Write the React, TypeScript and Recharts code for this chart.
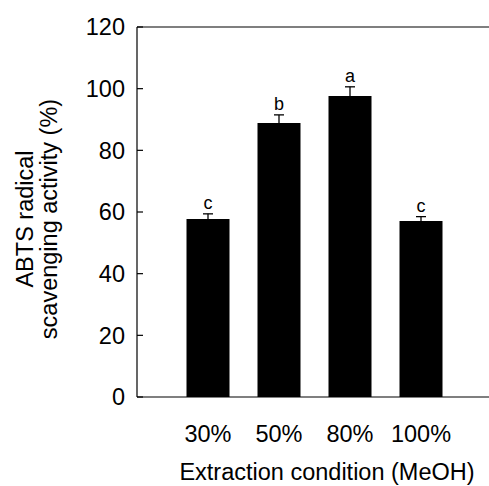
import React from 'react';
import { BarChart, Bar, XAxis, YAxis, ErrorBar, LabelList, ReferenceLine } from 'recharts';

const categories = ['30%', '50%', '80%', '100%'];
const values = [57.7, 88.9, 97.6, 57.1];
const errors = [1.7, 2.6, 3.0, 1.4];
const letters = ['c', 'b', 'a', 'c'];
const yTicks = [0, 20, 40, 60, 80, 100, 120];

const data = categories.map((c, i) => ({ name: c, value: values[i], err: errors[i] }));

const FONT = '"Liberation Sans", Arial, Helvetica, sans-serif';

const YTick = (props: any) => {
  const { x, y, payload } = props;
  return (
    <g>
      <line x1={x + 12} x2={x + 18} y1={y} y2={y} stroke="#000" strokeWidth={1.2} />
      <text x={x} y={y} dy="0.36em" textAnchor="end" fontSize={23.5} fontFamily={FONT} fill="#000">
        {payload.value}
      </text>
    </g>
  );
};

const XTick = (props: any) => {
  const { x, y, payload } = props;
  return (
    <text x={x} y={y} dy="0.72em" textAnchor="middle" fontSize={23.5} fontFamily={FONT} fill="#000">
      {payload.value}
    </text>
  );
};

const LetterLabel = (props: any) => {
  const { x, y, width, height, value, index } = props;
  const pxPerUnit = height / value;
  const errPx = errors[index] * pxPerUnit;
  return (
    <text x={x + width / 2} y={y - errPx - 5} textAnchor="middle" fontSize={18} fontFamily={FONT} fill="#000">
      {letters[index]}
    </text>
  );
};

const YLabel = (props: any) => {
  const { viewBox } = props;
  const cy = viewBox.y + viewBox.height / 2 + 7;
  return (
    <g fontSize={23.5} fontFamily={FONT} fill="#000">
      <text x={33} y={cy} textAnchor="middle" transform={`rotate(-90, 33, ${cy})`}>ABTS radical</text>
      <text x={57} y={cy} textAnchor="middle" transform={`rotate(-90, 57, ${cy})`}>scavenging activity (%)</text>
    </g>
  );
};

const XLabel = (props: any) => {
  const { viewBox } = props;
  const cx = viewBox.x + viewBox.width / 2 + 14;
  return (
    <text x={cx} y={480} textAnchor="middle" fontSize={23.5} fontFamily={FONT} fill="#000">
      Extraction condition (MeOH)
    </text>
  );
};

export default function App() {
  return (
    <div style={{ position: 'absolute', left: 0, top: 0, background: '#fff' }}>
      <BarChart
        width={489}
        height={486}
        data={data}
        margin={{ top: 27, right: 0, bottom: 0, left: 0 }}
      >
        <XAxis
          dataKey="name"
          height={89}
          padding={{ left: 35.5, right: 32.5 }}
          axisLine={{ stroke: '#000', strokeWidth: 1.2 }}
          tickLine={false}
          tickSize={0}
          tickMargin={28}
          tick={<XTick />}
          interval={0}
          label={<XLabel />}
        />
        <YAxis
          width={137}
          domain={[0, 120]}
          ticks={yTicks}
          axisLine={{ stroke: '#000', strokeWidth: 1.2 }}
          tickLine={false}
          tickSize={0}
          tickMargin={12}
          tick={<YTick />}
          interval={0}
          label={<YLabel />}
        />
        <ReferenceLine y={120} stroke="#000" strokeWidth={1.2} />
        <Bar dataKey="value" fill="#000" barSize={43} isAnimationActive={false}>
          <ErrorBar dataKey="err" width={5} stroke="#000" strokeWidth={1.3} direction="y" />
          <LabelList dataKey="value" content={<LetterLabel />} />
        </Bar>
      </BarChart>
    </div>
  );
}
